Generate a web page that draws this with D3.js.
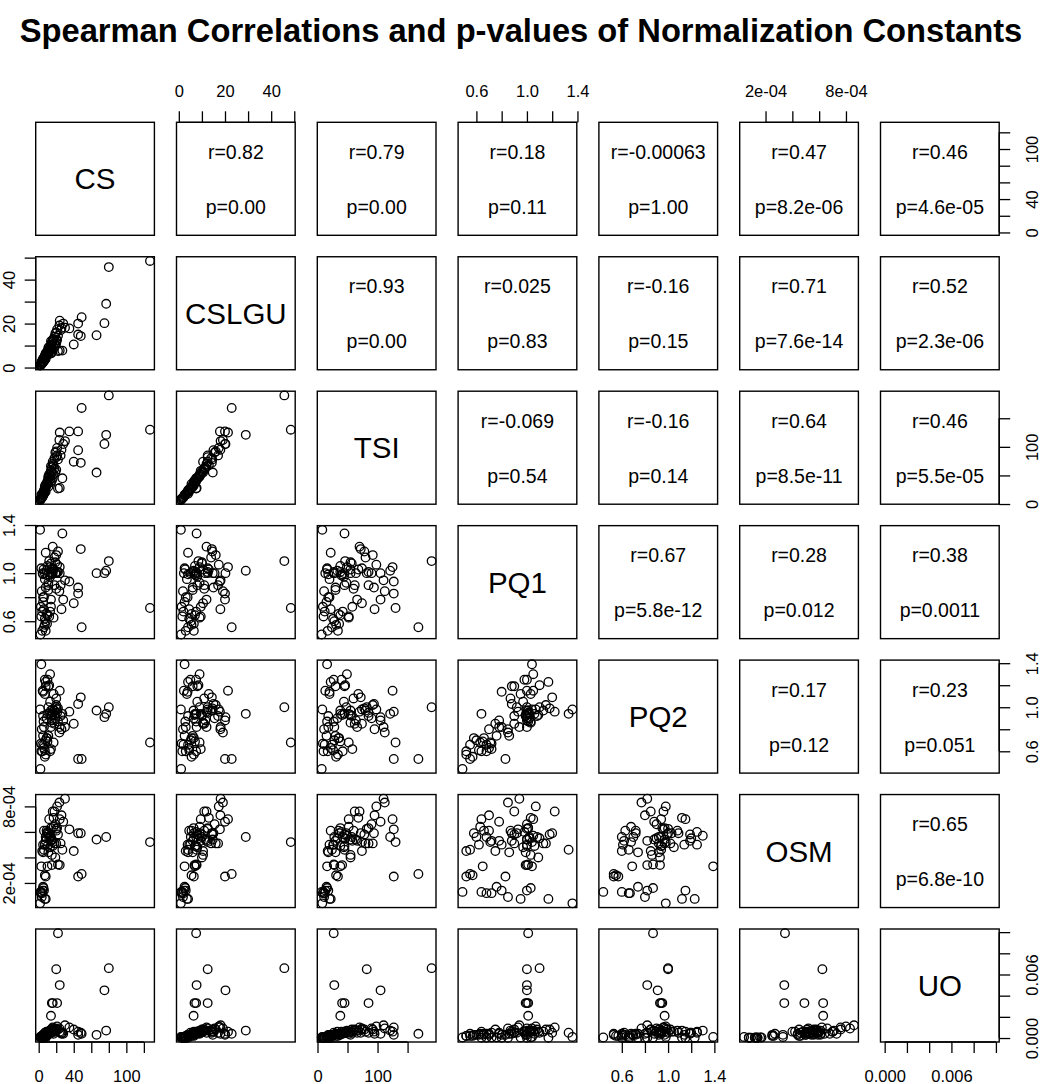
<!DOCTYPE html>
<html>
<head>
<meta charset="UTF-8">
<title>Spearman Correlations and p-values of Normalization Constants</title>
<script src="https://cdn.jsdelivr.net/npm/d3@7"></script>
<style>
  body { margin: 0; background: #fff; }
  text { font-family: "Liberation Sans", Arial, Helvetica, sans-serif; fill: #000; }
</style>
</head>
<body>
<svg id="chart" width="1041" height="1084"></svg>
<script>
// variable names (diagonal labels)
const vars = ["CS", "CSLGU", "TSI", "PQ1", "PQ2", "OSM", "UO"];

// one value per sample (80 samples); null = missing
const cs = [127, 80, 77, 75, 66, 49, 48, 45, 45, 40, 35, 24, 22, 20, 24, 15, 16, 21, 14, 1.6, 27, 3,
  2, 3, 4, 2.5, 5, 6, 3.5, 7, 5.5, 8, 4.5,
  30, 23.6, 21, 18, 16, 17, 12, 19, 10, 11, 13, 14, 9, 12, 15, 8, 16, 18, 20, 7, 10, 13, 6, 9, 14, 5, 11, 8, 14, 6, 17, 9.5, 4, 7, 13, 7, 10, 8, 25, 28, 26, 20, 22, 15, 11, 19, 5];
const cslgu = [48.5, 45.7, 29, 20.2, 14.7, 22.9, 14.3, 20, 15, 10.5, 17.8, 21.3, 7.5, 12.5, 7.7, 6.8, 7.5, 12.5, 6.4, 0.9, 7.7, 2.5,
  1.0, 1.5, 2.0, 1.2, 2.5, 3.0, 1.8, 3.5, 2.8, 4.0, 2.2,
  18.1, 19.1, 17.3, 11, 12, 13, 9.5, 15.5, 7.5, 8, 9, 10, 6.5, 8.5, 11.5, 6, 12.5, 14, 16, 5, 7, 8, 4.5, 5.5, 12, 3.8, 6, 5.2, 9.5, 4, 9, 6.5, 3, 4.5, 7.5, 5.5, 7, 6.5, 17, 20, 18, 11, 14.5, 10.5, 9, 10, 4];
const tsi = [130, 190, 121, 105, 55, 168, 72, 127, 94, 74, 127, 125, 27, 82, 28, 41, 45, 85, 38, 8, 45, 16,
  7, 10, 12, 9, 15, 18, 11, 20, 16, 22, 13,
  110, 112, 98, 62, 70, 68, 52, 90, 40, 45, 49, 57, 33, 46, 64, 30, 74, 80, 92, 27, 38, 44, 22, 35, 66, 20, 30, 28, 58, 24, 52, 36, 17, 26, 42, 31, 38, 34, 85, 105, 95, 60, 78, 55, 48, 55, 18];
const pq1 = [0.71, 1.10, 1.02, 1.00, 1.00, 0.55, 1.20, 0.83, 0.88, 0.75, 0.93, 1.05, 1.01, 1.00, 1.00, 0.99, 1.00, 1.01, 1.01, 1.36, 1.33, 1.04,
  0.49, 0.64, 0.68, 0.72, 0.76, 0.80, 0.85, 0.95, 1.03, 1.17, 1.00,
  0.94, 0.85, 1.07, 0.90, 1.22, 1.03, 0.64, 1.00, 0.98, 0.90, 1.05, 1.08, 1.02, 1.10, 1.00, 0.88, 1.04, 1.13, 1.15, 1.00, 1.06, 0.97, 0.70, 0.66, 0.78, 0.80, 0.86, 0.60, 0.72, 0.55, 0.63, 0.58, 0.52, 0.62, 0.68, 0.57, 0.65, 0.52, 0.90, 0.78, 0.70, 0.87, 1.18, 1.03, 0.92, 1.09, 0.99];
const pq2 = [0.68, 1.00, 0.94, 0.91, 0.97, 0.53, 1.09, 0.53, 1.03, 0.85, 0.96, 1.15, 0.87, 1.00, 0.82, 0.93, 0.94, 0.95, 0.97, 0.98, 0.94, 1.39,
  0.44, 0.60, 0.66, 0.67, 0.74, 0.82, 0.80, 1.12, 0.87, 1.23, 1.15,
  0.82, 0.77, 0.98, 0.85, 0.96, 1.12, 0.94, 0.90, 1.25, 1.19, 1.30, 0.92, 0.90, 1.20, 0.88, 1.19, 0.98, 0.97, 1.02, 1.25, 0.94, 1.05, 0.63, 0.72, 0.82, 1.14, 0.74, 0.70, 0.62, 0.66, 0.68, 0.72, 0.60, 0.61, 0.60, 0.55, 0.69, 0.57, 0.92, 0.88, 0.80, 1.08, 0.99, 0.86, 1.00, 0.93, 0.92];
const osm = [5.2e-4, null, 5.6e-4, null, 5.4e-4, 2.7e-4, 5.9e-4, 2.5e-4, 5.9e-4, 4.5e-4, 6.2e-4, 7.0e-4, 3.45e-4, 6.24e-4, 3.4e-4, 3.4e-4, 4.9e-4, 6.3e-4, 6.3e-4, 0.4e-4, 4.6e-4, 3.3e-4,
  1.3e-4, 1.3e-4, 1.2e-4, 1.2e-4, 1.7e-4, 1.4e-4, 0.9e-4, 0.75e-4, 1.6e-4, 0.75e-4, 1.4e-4,
  8.6e-4, 8.3e-4, 8.0e-4, 7.6e-4, 7.6e-4, 7.1e-4, 7.0e-4, 6.6e-4, 6.0e-4, 5.8e-4, 5.7e-4, 5.6e-4, 5.5e-4, 5.5e-4, 5.4e-4, 5.3e-4, 5.2e-4, 5.1e-4, 5.1e-4, 5.0e-4, 4.9e-4, 4.8e-4, 6.1e-4, 6.1e-4, 5.3e-4, 5.0e-4, 4.4e-4, 5.6e-4, 5.3e-4, 4.6e-4, 6.4e-4, 5.9e-4, 4.5e-4, 5.0e-4, 5.6e-4, 2.6e-4, 3.3e-4, 2.5e-4, 5.1e-4, 6.8e-4, 7.3e-4, 6.1e-4, 5.8e-4, 4.2e-4, 5.9e-4, 4.0e-4, 4.4e-4];
const uo = [null, 0.0066, 0.0007, 0.0045, 0.0003, 0.0004, 0.0005, 0.0003, 0.0006, 0.0008, 0.0010, 0.0006, 0.0099, 0.0065, 0.0050, 0.0033, 0.0033, 0.0033, 0.0021, 0.0001, 0.0005, 0.0001,
  0.00005, 0.00003, 0.00002, 0.00004, 0.00006, 0.00003, 0.00002, 0.00004, 0.00005, 0.00003, 0.00002,
  0.0012, 0.0009, 0.0011, 0.0008, 0.0010, 0.0007, 0.0006, 0.0009, 0.0006, 0.0005, 0.0007, 0.0008, 0.0006, 0.0005, 0.0007, 0.0004, 0.0009, 0.0006, 0.0008, 0.0005, 0.0004, 0.0006, 0.0003, 0.0004, 0.0005, 0.0003, 0.0004, 0.0003, 0.0005, 0.0002, 0.0004, 0.0003, 0.0002, 0.0003, 0.0004, 0.0002, 0.0003, 0.0002, 0.0005, 0.0004, 0.0004, 0.0007, 0.0008, 0.0006, 0.0005, 0.0006, 0.0003];

// correlation texts for the upper panels, row by row
const rLabels = [
  ["0.82", "0.79", "0.18", "-0.00063", "0.47", "0.46"],
  ["0.93", "0.025", "-0.16", "0.71", "0.52"],
  ["-0.069", "-0.16", "0.64", "0.46"],
  ["0.67", "0.28", "0.38"],
  ["0.17", "0.23"],
  ["0.65"]
];
const pLabels = [
  ["0.00", "0.00", "0.11", "1.00", "8.2e-06", "4.6e-05"],
  ["0.00", "0.83", "0.15", "7.6e-14", "2.3e-06"],
  ["0.54", "0.14", "8.5e-11", "5.5e-05"],
  ["5.8e-12", "0.012", "0.0011"],
  ["0.12", "0.051"],
  ["6.8e-10"]
];

// axis ticks and which of them carry a label
const tickValues = [
  [0, 20, 40, 60, 80, 100, 120],
  [0, 10, 20, 30, 40, 50],
  [0, 50, 100, 150],
  [0.6, 0.8, 1.0, 1.2, 1.4],
  [0.6, 0.8, 1.0, 1.2, 1.4],
  [2e-4, 4e-4, 6e-4, 8e-4],
  [0, 0.002, 0.004, 0.006, 0.008, 0.010]
];
const tickLabels = [
  ["0", "", "40", "", "", "100", ""],
  ["0", "", "20", "", "40", ""],
  ["0", "", "100", ""],
  ["0.6", "", "1.0", "", "1.4"],
  ["0.6", "", "1.0", "", "1.4"],
  ["2e-04", "", "", "8e-04"],
  ["0.000", "", "", "0.006", "", ""]
];

const columns = [cs, cslgu, tsi, pq1, pq2, osm, uo];
const n = vars.length;

const layout = {
  left: 35.7, top: 122.3,
  stepX: 140.8, stepY: 134.45,
  panelW: 118.7, panelH: 113
};

const svg = d3.select("#chart");

svg.append("text")
  .attr("x", 521)
  .attr("y", 42)
  .attr("text-anchor", "middle")
  .style("font-weight", "bold")
  .style("font-size", "32.7px")
  .text("Spearman Correlations and p-values of Normalization Constants");

// scales per variable for each column (x) and row (y); R pads the range by 4%
const xScales = [], yScales = [];
columns.forEach((col, k) => {
  const ext = d3.extent(col.filter(v => v !== null));
  const pad = (ext[1] - ext[0]) * 0.04;
  const dom = [ext[0] - pad, ext[1] + pad];
  const x0 = layout.left + k * layout.stepX;
  const y0 = layout.top + k * layout.stepY;
  xScales.push(d3.scaleLinear().domain(dom).range([x0, x0 + layout.panelW]));
  yScales.push(d3.scaleLinear().domain(dom).range([y0 + layout.panelH, y0]));
});

for (let i = 0; i < n; i++) {
  for (let j = 0; j < n; j++) {
    const x0 = layout.left + j * layout.stepX;
    const y0 = layout.top + i * layout.stepY;
    const cx = x0 + layout.panelW / 2, cy = y0 + layout.panelH / 2;
    const g = svg.append("g");

    g.append("rect")
      .attr("x", x0).attr("y", y0)
      .attr("width", layout.panelW).attr("height", layout.panelH)
      .attr("fill", "none").attr("stroke", "#000").attr("stroke-width", 1.4);

    if (i === j) {
      g.append("text")
        .attr("x", cx).attr("y", cy)
        .attr("dy", "0.36em")
        .attr("text-anchor", "middle")
        .style("font-size", "29.5px")
        .text(vars[i]);
    } else if (j > i) {
      g.append("text")
        .attr("x", cx).attr("y", cy - 27)
        .attr("dy", "0.36em")
        .attr("text-anchor", "middle")
        .style("font-size", "19.5px")
        .text("r=" + rLabels[i][j - i - 1]);
      g.append("text")
        .attr("x", cx).attr("y", cy + 28)
        .attr("dy", "0.36em")
        .attr("text-anchor", "middle")
        .style("font-size", "19.5px")
        .text("p=" + pLabels[i][j - i - 1]);
    } else {
      const pts = d3.range(cs.length)
        .filter(k => columns[j][k] !== null && columns[i][k] !== null);
      g.selectAll("circle")
        .data(pts)
        .join("circle")
        .attr("cx", k => xScales[j](columns[j][k]))
        .attr("cy", k => yScales[i](columns[i][k]))
        .attr("r", 4.3)
        .attr("fill", "none")
        .attr("stroke", "#000")
        .attr("stroke-width", 1.3);
    }
  }
}

// axes on alternating sides, like R's pairs()
function drawAxis(k, side) {
  const horizontal = side === "top" || side === "bottom";
  const scale = horizontal ? xScales[k] : yScales[k];
  const axisFn = { top: d3.axisTop, bottom: d3.axisBottom, left: d3.axisLeft, right: d3.axisRight }[side];
  const axis = axisFn(scale)
    .tickValues(tickValues[k])
    .tickSize(11)
    .tickFormat((d, i) => tickLabels[k][i]);

  let tx = 0, ty = 0;
  if (side === "top") ty = layout.top;
  if (side === "bottom") ty = layout.top + (n - 1) * layout.stepY + layout.panelH;
  if (side === "left") tx = layout.left;
  if (side === "right") tx = layout.left + (n - 1) * layout.stepX + layout.panelW;

  const g = svg.append("g")
    .attr("transform", `translate(${tx},${ty})`)
    .call(axis);
  g.select(".domain").remove();
  g.selectAll(".tick line").attr("stroke", "#000").attr("stroke-width", 1.3);

  const tv = tickValues[k];
  const a = scale(tv[0]), b = scale(tv[tv.length - 1]);
  g.append("line")
    .attr(horizontal ? "x1" : "y1", a)
    .attr(horizontal ? "x2" : "y2", b)
    .attr("stroke", "#000").attr("stroke-width", 1.3);

  const labels = g.selectAll(".tick text")
    .attr("fill", "#000")
    .style("font-size", "16.5px")
    .style("font-family", '"Liberation Sans", Arial, Helvetica, sans-serif')
    .attr("text-anchor", "middle")
    .attr("dy", "0.36em");
  if (side === "top") labels.attr("y", -31);
  if (side === "bottom") labels.attr("y", 34);
  if (side === "left") labels.attr("x", 0).attr("y", -27).attr("transform", "rotate(-90)");
  if (side === "right") labels.attr("x", 0).attr("y", 33).attr("transform", "rotate(-90)");
}

[1, 3, 5].forEach(k => drawAxis(k, "top"));
[0, 2, 4, 6].forEach(k => drawAxis(k, "bottom"));
[1, 3, 5].forEach(k => drawAxis(k, "left"));
[0, 2, 4, 6].forEach(k => drawAxis(k, "right"));
</script>
</body>
</html>
